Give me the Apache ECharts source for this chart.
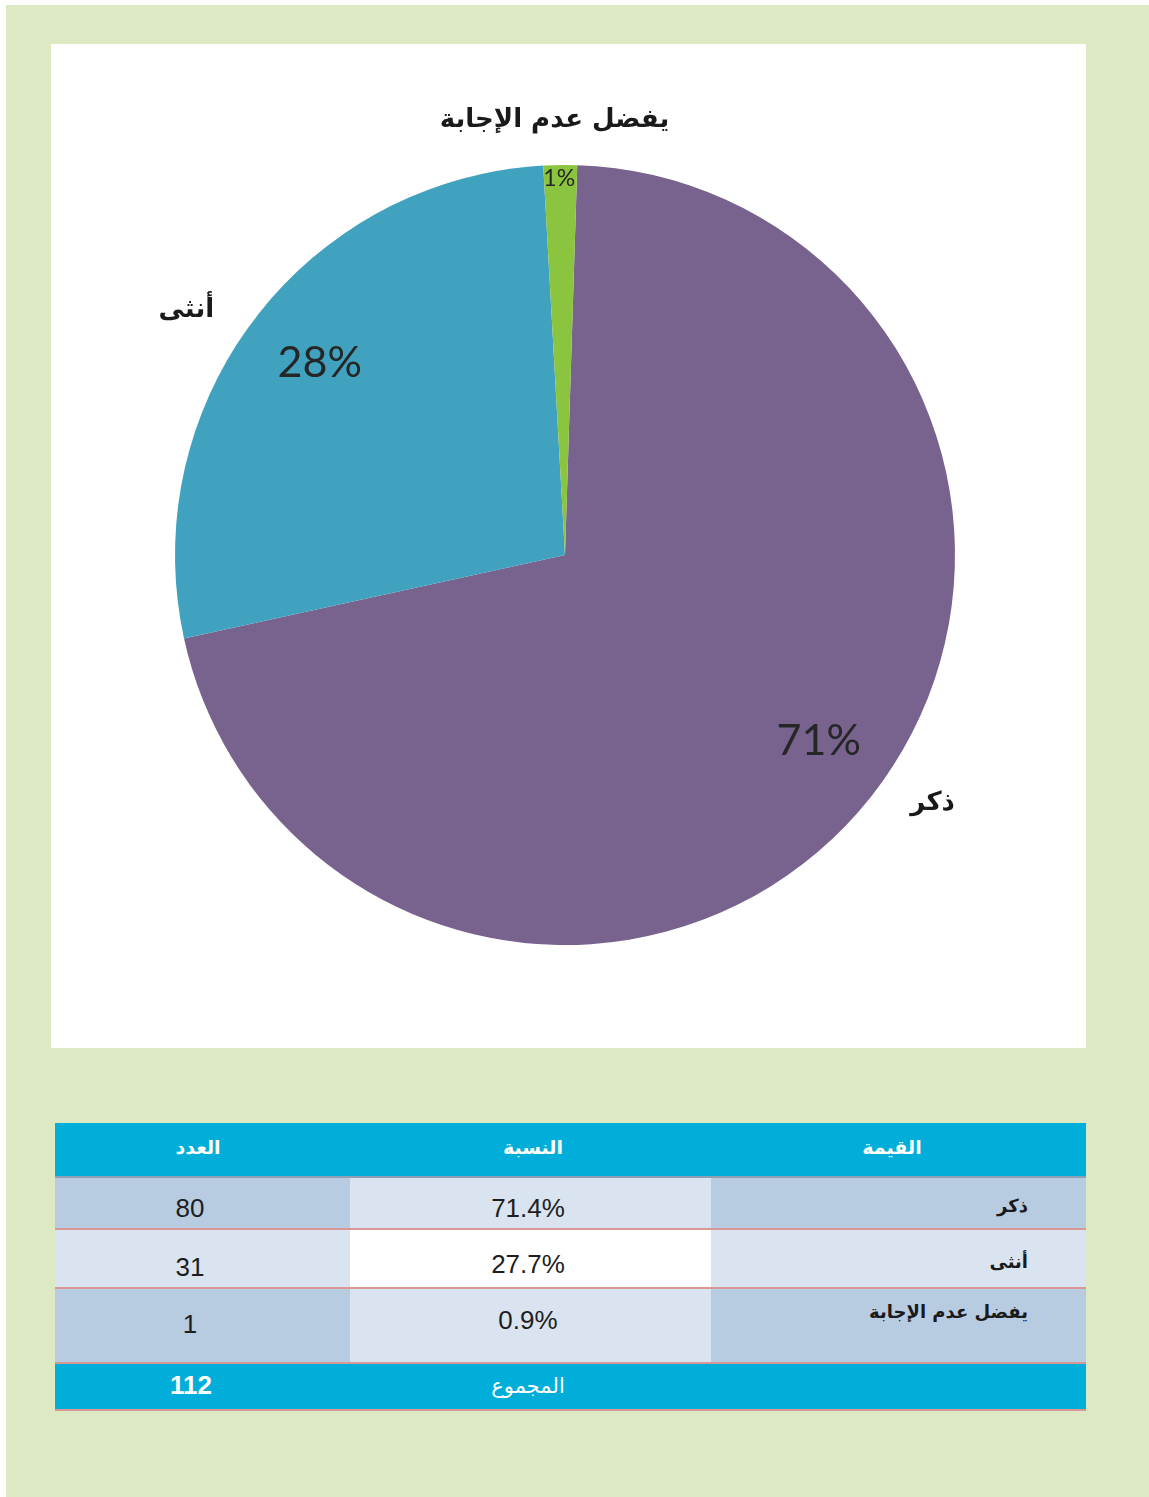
<!DOCTYPE html>
<html lang="ar">
<head>
<meta charset="utf-8">
<title>توزيع المشاركين حسب الجنس</title>
<script src="https://cdn.jsdelivr.net/npm/echarts@6/dist/echarts.min.js"></script>
<style>
  html, body { margin: 0; padding: 0; background: #ffffff; }
  #page { position: relative; width: 1149px; height: 1497px; overflow: hidden; background: #ffffff; }
  #frame { position: absolute; left: 6px; top: 5px; right: 0; bottom: 0; background: #dce9c3; }
  #panel { position: absolute; left: 51px; top: 44px; width: 1035px; height: 1004px; background: #ffffff; }
  #chart { position: absolute; left: 0; top: 0; width: 1149px; height: 1080px; }
  .blk { position: absolute; }
  .txt { position: absolute; white-space: nowrap; line-height: 1; }
  .num { font-family: "Liberation Sans", Arial, sans-serif; color: #1e1e1e; font-size: 26px; }
  .ar  { font-family: "DejaVu Sans", sans-serif; font-weight: bold; color: #1a1a1a; font-size: 18px; }
  .hd  { font-family: "DejaVu Sans", sans-serif; font-weight: bold; color: #ffffff; font-size: 19px; }
</style>
</head>
<body>
<div id="page">
  <div id="frame"></div>
  <div id="panel"></div>
  <div id="chart"></div>
</div>
<script>
// ---- data ----
const headers = ['العدد', 'النسبة', 'القيمة'];
const categories = ['ذكر', 'أنثى', 'يفضل عدم الإجابة'];
const counts = [80, 31, 1];
const shares = [71.4, 27.7, 0.9];
const total = 112;
const totalLabel = 'المجموع';

// ---- pie ----
const sliceColors = ['#78638f', '#41a2bf', '#8bc540'];
const chart = echarts.init(document.getElementById('chart'), null, { renderer: 'canvas' });

const pieData = categories.map((name, i) => ({
  name: name,
  value: counts[i],
  itemStyle: { color: sliceColors[i] }
}));

const base = {
  type: 'pie',
  center: [565, 555],
  startAngle: 88.2,
  clockwise: true,
  minAngle: 5,
  silent: true,
  animation: false,
  avoidLabelOverlap: false,
  emphasis: { disabled: true },
  labelLine: { show: false }
};

// small nudges for the label anchors
const pctShift = [{ dx: 13, dy: -14 }, { dx: 4, dy: -3 }, { dx: -2, dy: -63 }];
const nameShift = [{ dx: 23, dy: -38 }, { dx: -22, dy: 26 }, { dx: -5, dy: 13 }];

chart.setOption({
  series: [
    Object.assign({}, base, {
      radius: [0, 390],
      data: pieData,
      label: { show: false }
    }),
    Object.assign({}, base, {
      radius: [230, 390],
      z: 3,
      itemStyle: { color: 'rgba(0,0,0,0)' },
      data: categories.map((name, i) => ({
        name: name,
        value: counts[i],
        label: i === 2 ? { fontSize: 23 } : {}
      })),
      label: {
        show: true,
        position: 'inside',
        formatter: p => Math.round(p.percent) + '%',
        fontFamily: 'Lato, "Open Sans", sans-serif',
        fontSize: 43,
        color: '#262626'
      },
      labelLayout: p => pctShift[p.dataIndex]
    }),
    Object.assign({}, base, {
      radius: [400, 490],
      z: 3,
      itemStyle: { color: 'rgba(0,0,0,0)' },
      data: categories.map((name, i) => ({ name: name, value: counts[i] })),
      label: {
        show: true,
        position: 'inside',
        formatter: '{b}',
        fontFamily: '"DejaVu Sans", sans-serif',
        fontWeight: 'bold',
        fontSize: 26,
        color: '#1a1a1a'
      },
      labelLayout: p => nameShift[p.dataIndex]
    })
  ]
});

// ---- summary table ----
const page = document.getElementById('page');
const colX = [55, 350, 711, 1086];
const dark = '#b7cbe1', light = '#d9e4f0', white = '#ffffff', head = '#00aed9';
const redLine = '#d99896', greyLine = '#8e9fb3';

function block(x, y, w, h, bg) {
  const d = document.createElement('div');
  d.className = 'blk';
  d.style.left = x + 'px'; d.style.top = y + 'px';
  d.style.width = w + 'px'; d.style.height = h + 'px';
  d.style.background = bg;
  page.appendChild(d);
}
function text(str, cls, x, y, anchor, extra) {
  const s = document.createElement('div');
  s.className = 'txt ' + cls;
  s.textContent = str;
  s.style.left = x + 'px'; s.style.top = y + 'px';
  s.style.transform = anchor === 'right' ? 'translate(-100%,-50%)' : 'translate(-50%,-50%)';
  if (extra) Object.assign(s.style, extra);
  page.appendChild(s);
}

// header
block(colX[0], 1123, colX[3] - colX[0], 53, head);
block(colX[0], 1176, colX[3] - colX[0], 2, greyLine);
const headX = [198, 533, 892];
headers.forEach((h, i) => text(h, 'hd', headX[i], 1147, 'center'));

// body rows
const rowTop = [1178, 1230, 1289];
const rowH = [50, 57, 73];
const rowFill = [[dark, light, dark], [light, white, light], [dark, light, dark]];
const yCount = [1208, 1267, 1324];
const yShare = [1208, 1264, 1320];
const yName = [1206, 1262, 1312];
categories.forEach((name, r) => {
  for (let c = 0; c < 3; c++) {
    block(colX[c], rowTop[r], colX[c + 1] - colX[c], rowH[r], rowFill[r][c]);
  }
  block(colX[0], rowTop[r] + rowH[r], colX[3] - colX[0], 2, redLine);
  text(String(counts[r]), 'num', 190, yCount[r], 'center');
  text(shares[r].toFixed(1) + '%', 'num', 528, yShare[r], 'center');
  text(name, 'ar', 1028, yName[r], 'right');
});

// total row
block(colX[0], 1364, colX[3] - colX[0], 45, head);
block(colX[0], 1409, colX[3] - colX[0], 2, redLine);
text(String(total), 'num', 191, 1385, 'center', { color: '#ffffff', fontWeight: 'bold' });
text(totalLabel, 'hd', 528, 1386, 'center', { fontWeight: 'normal', fontSize: '21px' });
</script>
</body>
</html>
